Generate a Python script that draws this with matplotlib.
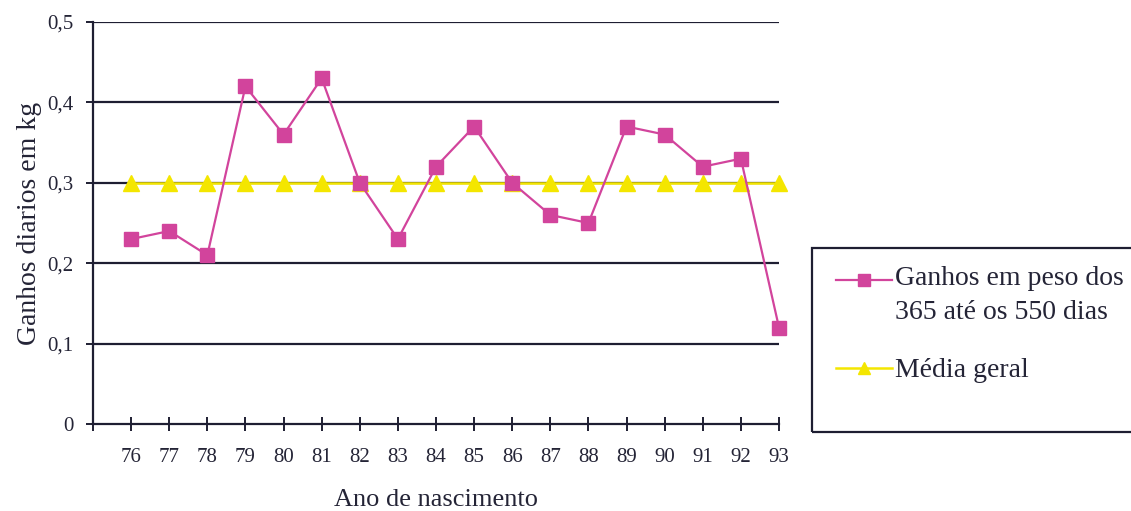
import matplotlib
matplotlib.use("Agg")
import matplotlib.pyplot as plt
from matplotlib.patches import Rectangle
from matplotlib.legend_handler import HandlerLine2D

# Data
anos = [76, 77, 78, 79, 80, 81, 82, 83, 84, 85, 86, 87, 88, 89, 90, 91, 92, 93]
ganhos = [0.23, 0.24, 0.21, 0.42, 0.36, 0.43, 0.30, 0.23, 0.32, 0.37,
          0.30, 0.26, 0.25, 0.37, 0.36, 0.32, 0.33, 0.12]
media = [0.30] * len(anos)
y_ticks = [0, 0.1, 0.2, 0.3, 0.4, 0.5]
y_labels = ["0", "0,1", "0,2", "0,3", "0,4", "0,5"]
x_ticks = [75] + anos
x_labels = [""] + [str(a) for a in anos]

serie_label = "Ganhos em peso dos\n365 até os 550 dias"
media_label = "Média geral"


class RaisedHandler(HandlerLine2D):
    """Line handler drawn higher in its box, next to the first text line."""

    def __init__(self, raise_pt=0.0, **kw):
        super().__init__(**kw)
        self.raise_pt = raise_pt

    def create_artists(self, legend, orig_handle, xdescent, ydescent,
                       width, height, fontsize, trans):
        return super().create_artists(legend, orig_handle, xdescent,
                                      ydescent - 2 * self.raise_pt,
                                      width, height, fontsize, trans)


plt.rcParams["font.family"] = ["Liberation Serif", "DejaVu Serif"]

W, H = 1131, 511
fig = plt.figure(figsize=(W / 100, H / 100), dpi=100)
ax = fig.add_axes([93 / W, 1 - 424 / H, (779 - 93) / W, (424 - 22) / H])

ink = "#1e1e32"
txt = "#242436"
magenta = "#d2449c"
yellow = "#f4e600"

for yv in y_ticks[1:]:
    ax.axhline(yv, color=ink, lw=1.6, zorder=1)

l_media, = ax.plot(anos, media, color=yellow, lw=1.8, marker="^",
                   markersize=11, markerfacecolor=yellow, markeredgecolor=yellow,
                   zorder=3, label=media_label, clip_on=False)
l_serie, = ax.plot(anos, ganhos, color=magenta, lw=1.6, marker="s",
                   markersize=10, markerfacecolor=magenta, markeredgecolor=magenta,
                   zorder=4, label=serie_label, clip_on=False)

ax.set_xlim(75, 93)
ax.set_ylim(0, 0.5)
ax.set_xticks(x_ticks)
ax.set_xticklabels(x_labels)
ax.set_yticks(y_ticks)
ax.set_yticklabels(y_labels)

for s in ("top", "right"):
    ax.spines[s].set_visible(False)
for s in ("left", "bottom"):
    ax.spines[s].set_color(ink)
    ax.spines[s].set_linewidth(1.6)

ax.tick_params(axis="x", direction="inout", length=10, width=1.4, color=ink,
               labelsize=15, pad=12, labelcolor=txt)
ax.tick_params(axis="y", direction="out", length=5, width=1.4, color=ink,
               labelsize=15, pad=9, labelcolor=txt)

ax.set_xlabel("Ano de nascimento", fontsize=19, labelpad=16, color=txt)
ax.set_ylabel("Ganhos diarios em kg", fontsize=20, labelpad=4, color=txt)

# Legend box, running off the right edge
fig.add_artist(Rectangle((812 / W, 1 - 432 / H), (1140 - 812) / W, (432 - 248) / H,
                         transform=fig.transFigure, fill=False, edgecolor=ink,
                         linewidth=1.6, clip_on=False))
leg = fig.legend(handles=[l_serie, l_media], loc="upper left",
                 bbox_to_anchor=(836 / W, 1 - 266 / H), frameon=False,
                 fontsize=20, handlelength=2.0, handletextpad=0.12,
                 labelspacing=1.2, borderpad=0, borderaxespad=0, markerscale=0.8,
                 labelcolor=txt,
                 handler_map={l_serie: RaisedHandler(raise_pt=10.8),
                              l_media: RaisedHandler(raise_pt=0.0)})
for t in leg.get_texts():
    t.set_linespacing(1.45)

fig.savefig("out.png", dpi=100, facecolor="white")
